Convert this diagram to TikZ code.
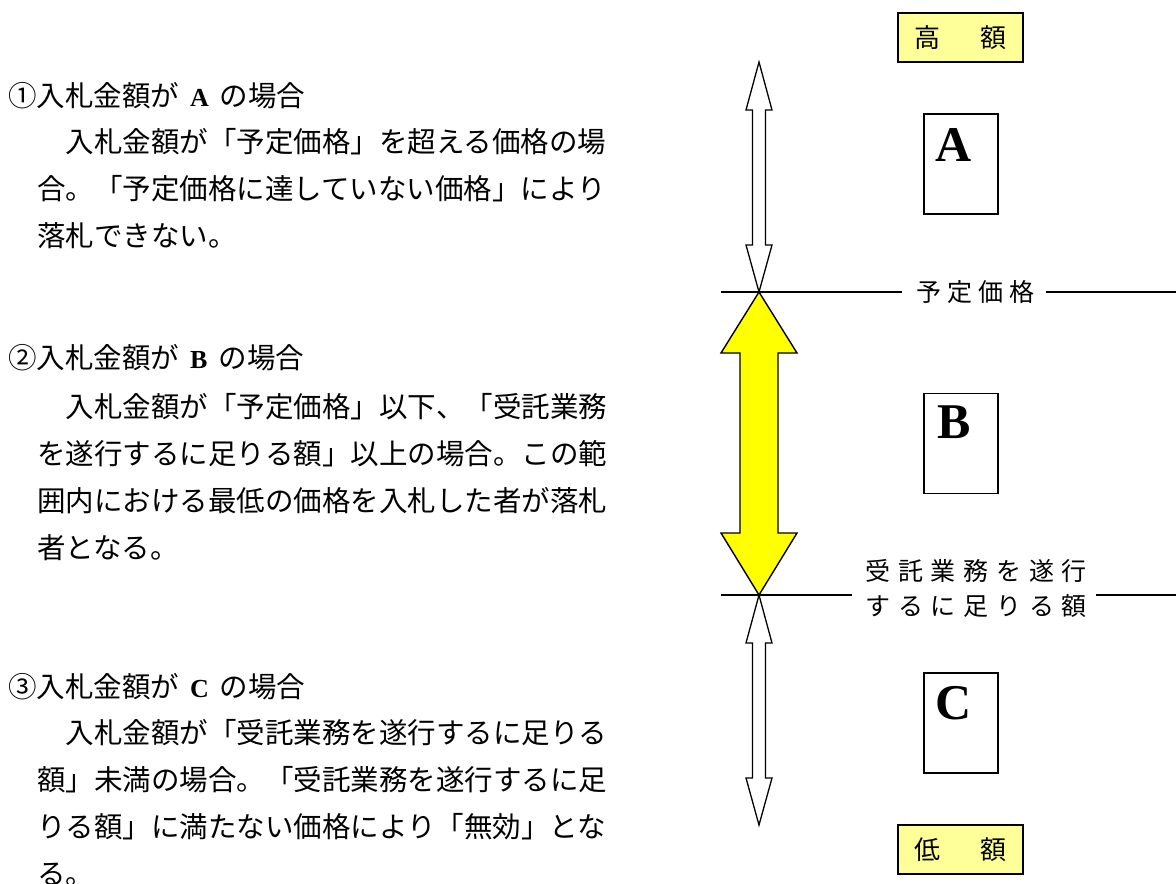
\documentclass[tikz,border=0pt]{standalone}
\usepackage{fontspec}
\setmainfont{Noto Sans CJK JP}
\newfontfamily\levelfont[LetterSpace=24]{Noto Sans CJK JP}
\newfontfamily\widelevelfont[LetterSpace=31]{Noto Sans CJK JP}
\newfontfamily\letterfont{Liberation Serif}
\usetikzlibrary{calc, positioning}
\definecolor{paleyellow}{RGB}{255,255,153}
\definecolor{brightyellow}{RGB}{255,255,0}
\newcommand{\caseletter}[1]{\hspace{11pt}{\letterfont\bfseries\fontsize{26}{47}\selectfont #1}\hspace{11pt}}

\begin{document}
\begin{tikzpicture}[x=1pt, y=-1pt,
  every node/.style={inner sep=0pt},
  heading/.style={anchor=base west, font=\fontsize{28.5}{47}\selectfont},
  bodytext/.style={anchor=base west, align=left, font=\fontsize{28.5}{47}\selectfont},
  levellabel/.style={align=center, font=\levelfont\fontsize{25}{35}\selectfont},
  widelabel/.style={align=center, font=\widelevelfont\fontsize{25}{35}\selectfont},
  levelline/.style={line width=1.3pt},
  endbox/.style={draw, line width=1.6pt, fill=paleyellow, minimum width=125, minimum height=49, font=\fontsize{26}{30}\selectfont},
  pricebox/.style={draw, line width=1.2pt, minimum width=74, minimum height=100},
  letter/.style={anchor=base, font=\letterfont\bfseries\fontsize{50}{50}\selectfont},
  hollow/.style={draw, line width=1.3pt, fill=white}]
  \useasboundingbox (0,0) rectangle (1176,884);

  % left: the three cases (body nodes sit on the baseline of their last line)
  \node[heading] (head1) at (8,106) {①入札金額が\caseletter{A}の場合};
  \node[bodytext] (body1) at (37,246) {　入札金額が「予定価格」を超える価格の場\\合。「予定価格に達していない価格」により\\落札できない。};

  \node[heading] (head2) at (8,368) {②入札金額が\caseletter{B}の場合};
  \node[bodytext] (body2) at (37,558) {　入札金額が「予定価格」以下、「受託業務\\を遂行するに足りる額」以上の場合。この範\\囲内における最低の価格を入札した者が落札\\者となる。};

  \node[heading] (head3) at (8,697) {③入札金額が\caseletter{C}の場合};
  \node[bodytext] (body3) at (37,884) {　入札金額が「受託業務を遂行するに足りる\\額」未満の場合。「受託業務を遂行するに足\\りる額」に満たない価格により「無効」とな\\る。};

  % right: price scale
  \def\axisx{759}
  \def\upper{292}
  \def\lower{595}

  \foreach \ta/\tb in {62/\upper, \lower/825} {
    \draw[hollow] (\axisx,\ta) -- ({\axisx+13},{\ta+48}) -- ({\axisx+6.5},{\ta+48})
      -- ({\axisx+6.5},{\tb-47}) -- ({\axisx+13},{\tb-47}) -- (\axisx,\tb)
      -- ({\axisx-13},{\tb-47}) -- ({\axisx-6.5},{\tb-47}) -- ({\axisx-6.5},{\ta+48})
      -- ({\axisx-13},{\ta+48}) -- cycle;
  }

  \draw[line width=1.4pt, fill=brightyellow] (\axisx,\upper) -- (797,353) -- (778,353) -- (778,533)
    -- (797,533) -- (\axisx,\lower) -- (721,533) -- (740,533) -- (740,353) -- (721,353) -- cycle;

  \node[levellabel] (upperlabel) at (975.5,\upper) {予定価格};
  \node[widelabel] (lowerlabel) at (976,588) {受託業務を遂行\\するに足りる額};

  \coordinate (upperL) at (721,\upper);
  \coordinate (upperR) at (1176,\upper);
  \coordinate (lowerL) at (721,\lower);
  \coordinate (lowerR) at (1176,\lower);

  \draw[levelline] (upperL) -- ($(upperlabel.west)+(-14.5,0)$);
  \draw[levelline] ($(upperlabel.east)+(11.5,0)$) -- (upperR);
  \draw[levelline] (lowerL) -- ($(lowerL -| lowerlabel.west)+(-13.5,0)$);
  \draw[levelline] ($(lowerR -| lowerlabel.east)+(9.5,0)$) -- (lowerR);

  \node[endbox] (high) at (960.5,37.5) {高\hspace{41pt}額};
  \node[endbox] (low) at (960.5,849.5) {低\hspace{41pt}額};

  \node[pricebox] (boxA) at (961,164) {};
  \node[pricebox] (boxB) at (961,443.5) {};
  \node[pricebox] (boxC) at (961,723) {};
  \node[letter] (letA) at ($(boxA.north)+(-7,48)$) {A};
  \node[letter] (letB) at ($(boxB.north)+(-7,46)$) {B};
  \node[letter] (letC) at ($(boxC.north)+(-7,47)$) {C};
\end{tikzpicture}
\end{document}
